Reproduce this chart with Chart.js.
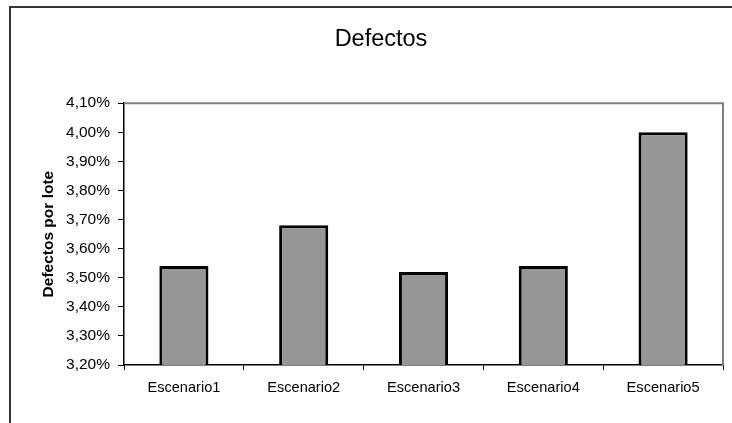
<!DOCTYPE html>
<html>
<head>
<meta charset="utf-8">
<script src="https://cdn.jsdelivr.net/npm/chart.js@4.4.1/dist/chart.umd.min.js"></script>
<style>
  html, body { margin: 0; padding: 0; background: #fff; }
  #wrap { position: relative; width: 732px; height: 423px; }
</style>
</head>
<body>
<div id="wrap"><canvas id="chart" width="732" height="423"></canvas></div>
<script>
// Defect rate per batch for each scenario (percent)
const categories = ['Escenario1', 'Escenario2', 'Escenario3', 'Escenario4', 'Escenario5'];
const defectRate = [3.54, 3.68, 3.52, 3.54, 4.00];
const yTickValues = [3.2, 3.3, 3.4, 3.5, 3.6, 3.7, 3.8, 3.9, 4.0, 4.1];

const FONT = "'Liberation Sans', Arial, sans-serif";

// Frame around the whole chart plus the grey top/right edges of the plot area
const framePlugin = {
  id: 'frame',
  beforeDraw(chart) {
    const ctx = chart.ctx;
    ctx.save();
    ctx.strokeStyle = '#333';
    ctx.lineWidth = 2;
    ctx.beginPath();
    ctx.moveTo(10, 423);
    ctx.lineTo(10, 7);
    ctx.lineTo(732, 7);
    ctx.stroke();
    ctx.restore();
  },
  afterDatasetsDraw(chart) {
    const {ctx, chartArea: a} = chart;
    ctx.save();
    ctx.strokeStyle = '#808080';
    ctx.lineWidth = 2;
    ctx.beginPath();
    ctx.moveTo(a.left, a.top);
    ctx.lineTo(a.right, a.top);
    ctx.lineTo(a.right, a.bottom);
    ctx.stroke();
    ctx.restore();
  }
};

new Chart(document.getElementById('chart'), {
  type: 'bar',
  data: {
    labels: categories,
    datasets: [{
      data: defectRate,
      backgroundColor: '#969696',
      borderColor: '#000',
      borderWidth: 3,
      borderSkipped: 'start',
      barPercentage: 0.41,
      categoryPercentage: 1.0
    }]
  },
  options: {
    responsive: false,
    animation: false,
    layout: { padding: { left: 39, right: 9, top: 0, bottom: 0 } },
    plugins: {
      legend: { display: false },
      tooltip: { enabled: false },
      title: {
        display: true,
        text: 'Defectos',
        color: '#000',
        font: { family: FONT, size: 23.5, weight: 'normal', lineHeight: 1.2 },
        padding: { top: 25, bottom: 50 }
      }
    },
    scales: {
      x: {
        grid: { display: true, drawOnChartArea: false, drawTicks: true, tickLength: 5, color: '#000', offset: true },
        border: { display: true, color: '#000', width: 1.5 },
        ticks: { color: '#000', font: { family: FONT, size: 14.6 }, padding: 9, maxRotation: 0 },
        afterFit(scale) { scale.height = 58; }
      },
      y: {
        min: 3.2,
        max: 4.1,
        grid: { display: true, drawOnChartArea: false, drawTicks: true, tickLength: 6, color: '#000' },
        border: { display: true, color: '#000', width: 1.5 },
        ticks: {
          color: '#000',
          font: { family: FONT, size: 15.5 },
          padding: 8,
          callback: (v) => v.toFixed(2).replace('.', ',') + '%'
        },
        afterBuildTicks(scale) { scale.ticks = yTickValues.map(v => ({ value: v })); },
        title: {
          display: true,
          text: 'Defectos por lote',
          color: '#000',
          font: { family: FONT, size: 15.5, weight: 'bold', lineHeight: 1.2 },
          padding: { top: 0, bottom: 0 }
        },
        afterFit(scale) { scale.width = 85; }
      }
    }
  },
  plugins: [framePlugin]
});
</script>
</body>
</html>
